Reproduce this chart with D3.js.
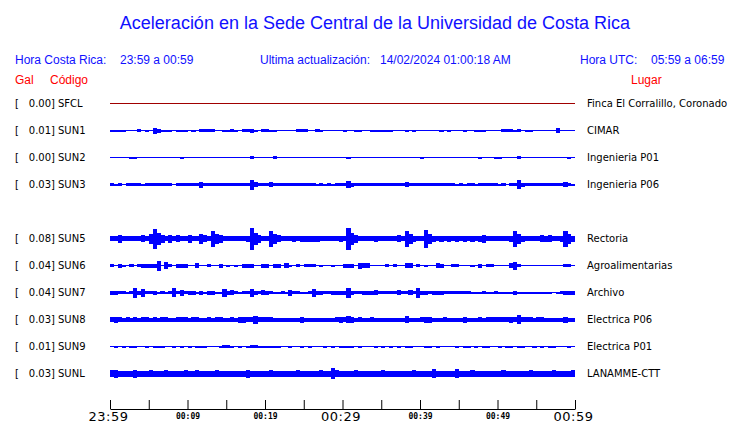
<!DOCTYPE html>
<html><head><meta charset="utf-8">
<script src="https://cdn.jsdelivr.net/npm/d3@7"></script>
<style>body{margin:0;background:#fff}svg{display:block}</style>
</head><body>
<svg id="c" width="740" height="423"></svg>
<script>
// ---- data ----
const slots = ["SFCL","SUN1","SUN2","SUN3","SUN4","SUN5","SUN6","SUN7","SUN8","SUN9","SUNL"];
const codes = ["SFCL","SUN1","SUN2","SUN3","SUN5","SUN6","SUN7","SUN8","SUN9","SUNL"];
const places = ["Finca El Corralillo, Coronado","CIMAR","Ingenieria P01","Ingenieria P06","Rectoria","Agroalimentarias","Archivo","Electrica P06","Electrica P01","LANAMME-CTT"];
const peakGal = ["0.00","0.01","0.00","0.03","0.08","0.04","0.04","0.03","0.01","0.03"];
const tickMinutes = [0,5,10,15,20,25,30,35,40,45,50,55,60];
const sampleSeconds = 30;
// relative envelope amplitude, one value per 30 s
const ampSFCL = [0,0,0,0,0,0,0,0,0,0, 0,0,0,0,0,0,0,0,0,0,
  0,0,0,0,0,0,0,0,0,0, 0,0,0,0,0,0,0,0,0,0,
  0,0,0,0,0,0,0,0,0,0, 0,0,0,0,0,0,0,0,0,0,
  0,0,0,0,0,0,0,0,0,0, 0,0,0,0,0,0,0,0,0,0,
  0,0,0,0,0,0,0,0,0,0, 0,0,0,0,0,0,0,0,0,0,
  0,0,0,0,0,0,0,0,0,0, 0,0,0,0,0,0,0,0,0,0];
const ampSUN1 = [1,1,1,1,0,0,0,1.5,0,1, 0,3,2,1,1,1,0,1,1,1,
  0,1,0,1.5,1.5,1.5,1.5,0,0,1, 1,1.5,1,0,1.5,1.5,2,1,0,1.5,
  1.5,1,1,0.5,0,0,0,0,1.5,1.5, 1.5,0,0,1.5,1,0,0.5,0.5,0,0,
  1,0.5,0,1,1,0,0,1,1,1, 1,1,1,0,0,0,1,0.5,1,0,
  0.5,0.5,0,0,0,1,0,1,0,0, 0,1,0,0,1,1,1,0,0,0,
  0,1.5,1.5,1.5,1,1.5,0,1,1,0, 0.5,0.5,0,0,0,2.5,0.5,0,0,0];
const ampSUN2 = [0,0,0,0,0,1,1,0,0,0, 0,0,0,0,0,0,0,0,1,0,
  0,0,0,0,0,0,0,0,0,0, 0,0,0,0,0,0,1.5,0,0,0,
  0,0,1.5,0,0,0,0,0,0.5,0, 0,0,0,0,0,0,0.5,0,0,0,
  0,1,0,0,0,0,0,0,0,0, 0,0,0,0,0,0,0,0,0,0,
  1,0,0,0,0,0,0,0,0,0, 0,0,0,0,0,1,0,0,0,1,
  1,0,0,0,0,1.5,0,0,0.5,0, 0,0,0,0,0,0,0,0,1,0];
const ampSUN3 = [1.5,1,1.5,0.5,1.5,1.5,1.5,1.5,1,1.5, 1.5,1.5,1.5,1.5,1.5,1.5,0.5,1.5,1.5,1.5,
  1.5,1.5,1.5,3,1.5,1.5,1.5,1.5,1.5,1.5, 1.5,1.5,1.5,1.5,1.5,1.5,5,2.5,1.5,1.5,
  1.5,2.5,1.5,1.5,1.5,1.5,1.5,1.5,1.5,1.5, 1.5,1.5,1.5,1,1.5,1,1.5,1,1.5,1.5,
  1.5,3.5,2,1.5,1.5,1.5,1.5,1.5,1.5,1.5, 1.5,1.5,1.5,1.5,1.5,1.5,2.5,1.5,1.5,1.5,
  1.5,1.5,1.5,1.5,1.5,1.5,1.5,1.5,1.5,1, 1.5,1,1.5,1.5,1,1.5,1.5,1.5,1.5,1.5,
  1,1.5,0.5,1.5,1.5,4.5,2,1.5,1.5,1.5, 1.5,1.5,1.5,1.5,1.5,1.5,1.5,2.5,1.5,1];
const ampSUN5 = [2.5,2.5,4,2.5,2.5,2.5,2.5,2.5,3.5,2.5, 5,10,6,4,2.5,4,2.5,3.5,2.5,2.5,
  4,2.5,2.5,5,3.5,2.5,8,5,4,2.5, 2.5,2.5,2.5,2.5,2.5,3,11,6,4,2.5,
  2.5,8,5,3.5,2.5,2.5,2.5,3,2.5,3, 3,3,3,3,2.5,2.5,2.5,2.5,2.5,3,
  2.5,11,6,4,2.5,2.5,2.5,2.5,3,2.5, 2.5,2.5,2.5,2.5,3.5,2.5,8,5,3,2.5,
  2.5,9,5,3,2.5,3,2.5,3,2.5,3, 2.5,3,2.5,3,2.5,3,4,2.5,2.5,2.5,
  2.5,2.5,2.5,3,8,5,3,2.5,2.5,2.5, 2.5,3.5,3,3.5,2.5,2.5,3,8,5,3];
const ampSUN6 = [1.5,0,2,1,0,1.5,0,1.5,2,2, 2,2,5,0,3.5,1.5,0,2,2,2,
  0,0,2.5,0,0,1.5,0,0,2,0, 1,0,1,0,2,2,2,0,0,2,
  2,0,2,2,0,2.5,1,0,1.5,0, 1.5,1.5,1.5,0,1,0,0,1,0,0,
  2,2,2,0,3,2.5,2.5,0,0,0, 0,1.5,0,1.5,0,0,2.5,2.5,0,1.5,
  0,1,0,0,2.5,2,0,0,1.5,1.5, 0,0,0,1,0,2,0,1.5,1.5,0,
  0,0,0,2.5,4,1.5,0,0,0.5,0, 0,0,0,0,0,0,0,1.5,1.5,0];
const ampSUN7 = [2,2,1.5,1.5,1,1.5,5,2,4,1.5, 1.5,2,1,1.5,1,1.5,4.5,1.5,3,1.5,
  2,2,1,2,1,2,2,1,1,4, 2,2.5,1.5,1,1.5,1.5,4,2,1.5,2.5,
  2,1.5,1,1,1.5,1,3,1.5,1.5,1, 1,1.5,4,2,2,1.5,1.5,2,2,2,
  2,5,2,1.5,1.5,2,2,2,2.5,1.5, 1.5,1.5,1.5,1.5,2.5,1.5,1.5,2.5,1.5,5,
  2,2,1.5,2,2,2,1.5,1.5,1.5,1.5, 1.5,1.5,1.5,1,1,1,1.5,1,1,1.5,
  1,1,1,1,2,1,1,1,1,1, 1,1,1,1,0.5,1,1.5,2,2,2];
const ampSUN8 = [2.5,3,2.5,2,2.5,2,2.5,2,2.5,2.5, 2,2.5,2,2.5,2.5,2,2,2.5,2.5,2.5,
  2,2.5,2.5,2,2,2.5,2,2.5,2.5,2, 2,2.5,2,3,3,2.5,2.5,4,2.5,2.5,
  2.5,2.5,2,2,2,2,2,2,2,3, 2,2,2,2,2,2,2,2,2.5,3,
  2.5,3.5,3,2,2.5,2,2,2.5,2,2, 2,2,2,2,2,2,3.5,2,2,2,
  2.5,3,3,2,2,2,2.5,2,2,2, 2,3,2,2,2,2.5,2,2.5,2.5,2.5,
  2.5,2.5,2.5,3,2.5,4.5,2.5,2.5,2.5,2, 2.5,2.5,2,2,2,2,2,3,2,2];
const ampSUN9 = [0,1,0,1,0,1,1,0,0,1, 0,1,1,1,0,0,1,0,1,0,
  1,0,1,1,1,0.5,0,0,1,1.5, 1.5,1,0,1,0,1,1.5,1.5,1,1,
  1,1,1,1,0,0,1,0,0,1, 0,1,0,0,0,1,0,1,0,1,
  1,1,1,0,1,0,0,0,1,0, 1,0,1,0,1,0,1,1,0,0,
  0,1,1,0,1,0,0,0,0,1, 0,1,1,0,1,0,1,1,0,0,
  1,0,1,1,0,1,1,0,0,1, 0,1,0,1,1,0,0,0,1,0];
const ampSUNL = [3.5,4,3,3,3,3,4,3,3,3, 3.5,3,3,3,3.5,3,3,3,3,3.5,
  3,3,3.5,3,3,3,3,3.5,3,3, 3,3,3,3,3,4,3,3,3,3,
  3,3.5,3,3,3,3,3,3,3.5,3, 3,3,3,3,3.5,3,3,5.5,3.5,3,
  3,3,3,3.5,3,3,3,3,3,3, 3.5,3,3,3,3,3,3,3,3.5,3,
  3,3,3,4.5,3,3,3,3,3,4.5, 3,3,3,3.5,3,3,3,3,3,3,
  3,3.5,3,3,3,3,3,3,3.5,3, 3,3,3,3,3.5,3,3,3,3,3.5];
const amps = [ampSFCL,ampSUN1,ampSUN2,ampSUN3,ampSUN5,ampSUN6,ampSUN7,ampSUN8,ampSUN9,ampSUNL];
const traceColors = ["#a00000","#0000ff","#0000ff","#0000ff","#0000ff","#0000ff","#0000ff","#0000ff","#0000ff","#0000ff"];

// ---- drawing ----
const svg = d3.select("#c");
const blue = "#1010ff", red = "#ff0000";
const start = new Date(2024,1,13,23,59,0);
const end = new Date(2024,1,14,0,59,0);
const x = d3.scaleTime().domain([start,end]).range([110,575]);
const y = d3.scalePoint().domain(slots).range([103,373]);
const a = d3.scaleLinear().domain([0,10]).range([0,10]);
const t = i => d3.timeSecond.offset(start, i*sampleSeconds);

svg.append("text").attr("x",375).attr("y",29).attr("text-anchor","middle")
  .attr("font-family","Liberation Sans, Arial, sans-serif").attr("font-size",18).attr("fill",blue)
  .text("Aceleración en la Sede Central de la Universidad de Costa Rica");

const hdr = [
  {x:15,text:"Hora Costa Rica:"},{x:120,text:"23:59 a 00:59"},
  {x:260,text:"Ultima actualización:"},{x:380,text:"14/02/2024 01:00:18 AM"},
  {x:580,text:"Hora UTC:"},{x:651,text:"05:59 a 06:59"}];
svg.selectAll("text.hdr").data(hdr).join("text").attr("class","hdr")
  .attr("x",d=>d.x).attr("y",64).attr("font-family","Liberation Sans, Arial, sans-serif")
  .attr("font-size",12).attr("fill",blue).text(d=>d.text);
const hdr2 = [{x:15,text:"Gal"},{x:50,text:"Código"},{x:631,text:"Lugar"}];
svg.selectAll("text.hdr2").data(hdr2).join("text").attr("class","hdr2")
  .attr("x",d=>d.x).attr("y",84).attr("font-family","Liberation Sans, Arial, sans-serif")
  .attr("font-size",12).attr("fill",red).text(d=>d.text);

const lblFont = "DejaVu Sans, sans-serif";
codes.forEach((code,k) => {
  const cy = y(code);
  const g = svg.append("g");
  g.append("text").attr("x",15).attr("y",cy+4).attr("font-family",lblFont).attr("font-size",10).attr("fill","#000").text("[");
  g.append("text").attr("x",55).attr("y",cy+4).attr("text-anchor","end").attr("font-family",lblFont).attr("font-size",10).attr("fill","#000").text(peakGal[k]+"]");
  g.append("text").attr("x",58).attr("y",cy+4).attr("font-family",lblFont).attr("font-size",10).attr("fill","#000").text(code);
  g.append("text").attr("x",587).attr("y",cy+4).attr("font-family",lblFont).attr("font-size",10).attr("fill","#000").text(places[k]);
  const tr = svg.append("g").attr("shape-rendering","crispEdges");
  tr.append("line").attr("x1",x(start)).attr("x2",x(end)).attr("y1",cy+0.5).attr("y2",cy+0.5)
    .attr("stroke",traceColors[k]).attr("stroke-width",1);
  const pts = amps[k].map((v,i)=>({v,i})).filter(d=>d.v>0);
  tr.selectAll("rect").data(pts).join("rect")
    .attr("x",d=>x(t(d.i))).attr("width",d=>x(t(d.i+1))-x(t(d.i))+0.3)
    .attr("y",d=>cy+0.5-a(d.v)).attr("height",d=>2*a(d.v))
    .attr("fill",traceColors[k]);
});

// time axis
const tickTimes = tickMinutes.map(m => d3.timeMinute.offset(start,m));
const fmt = d3.timeFormat("%H:%M");
const ax = svg.append("g").attr("transform","translate(0,409)")
  .call(d3.axisBottom(x).tickValues(tickTimes).tickSize(-9).tickSizeOuter(0).tickFormat(fmt));
ax.select(".domain").attr("stroke","#000");
ax.selectAll(".tick line").attr("stroke","#000");
ax.selectAll(".tick text").each(function(d,i){
  const m = tickMinutes[i];
  const s = d3.select(this).attr("dy",null).attr("fill","#000");
  if (m % 10 !== 0) { s.remove(); return; }
  if (m % 30 === 0) s.attr("y",12).attr("x",-2).attr("font-family","DejaVu Sans, sans-serif").attr("font-size",13).attr("letter-spacing",0.5);
  else s.attr("y",10).attr("font-family","DejaVu Sans Mono, monospace").attr("font-weight","bold").attr("font-size",8);
});
</script>
</body></html>
